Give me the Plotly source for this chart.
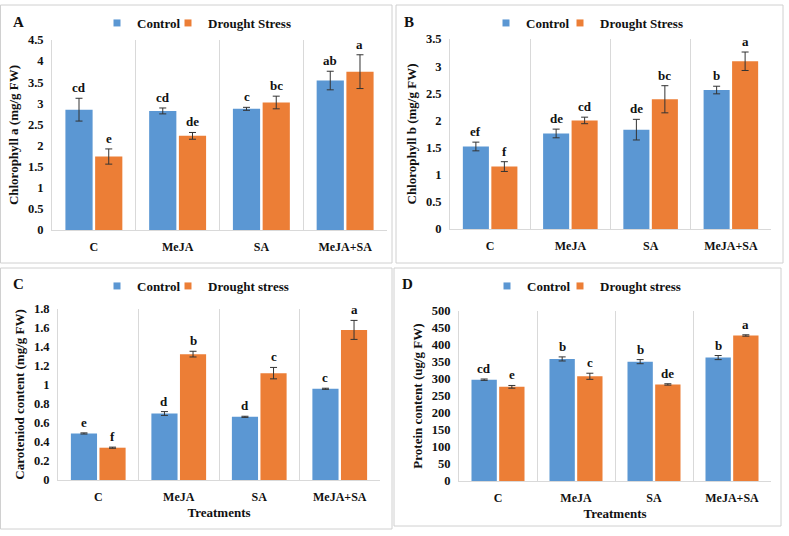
import plotly.graph_objects as go

W, H = 789, 536

categories = ["C", "MeJA", "SA", "MeJA+SA"]

# Panel A - Chlorophyll a
chla_control = [2.85, 2.82, 2.87, 3.54]
chla_control_err = [0.27, 0.07, 0.035, 0.22]
chla_drought = [1.74, 2.23, 3.02, 3.75]
chla_drought_err = [0.18, 0.08, 0.15, 0.40]
chla_control_letters = ["cd", "cd", "c", "ab"]
chla_drought_letters = ["e", "de", "bc", "a"]

# Panel B - Chlorophyll b
chlb_control = [1.52, 1.76, 1.83, 2.56]
chlb_control_err = [0.08, 0.08, 0.19, 0.07]
chlb_drought = [1.15, 2.00, 2.39, 3.09]
chlb_drought_err = [0.09, 0.06, 0.25, 0.17]
chlb_control_letters = ["ef", "de", "de", "b"]
chlb_drought_letters = ["f", "cd", "bc", "a"]

# Panel C - Carotenoid
car_control = [0.49, 0.70, 0.665, 0.96]
car_control_err = [0.006, 0.02, 0.006, 0.006]
car_drought = [0.34, 1.325, 1.125, 1.58]
car_drought_err = [0.006, 0.03, 0.06, 0.10]
car_control_letters = ["e", "d", "d", "c"]
car_drought_letters = ["f", "b", "c", "a"]

# Panel D - Protein
prot_control = [298, 359, 351, 363]
prot_control_err = [2, 6, 6, 6]
prot_drought = [277, 308, 284, 428]
prot_drought_err = [4, 9, 2, 2]
prot_control_letters = ["cd", "b", "b", "b"]
prot_drought_letters = ["e", "c", "de", "a"]

BLUE = "#5B97D3"
ORANGE = "#EC7E36"
FONT = "Liberation Serif"
GRID = "#D9D9D9"

panels = [
    dict(letter="A", ctrl=chla_control, ctrl_err=chla_control_err, dr=chla_drought, dr_err=chla_drought_err,
         cl=chla_control_letters, dl=chla_drought_letters, ymax=4.5, dtick=0.5,
         ytitle="Chlorophyll a (mg/g FW)", drname="Drought Stress", xtitle=None,
         px=(52, 387), py=(40, 230), box=(0.5, 5, 392, 263), lx=(97, 168), ly=23, letpos=(18, 22)),
    dict(letter="B", ctrl=chlb_control, ctrl_err=chlb_control_err, dr=chlb_drought, dr_err=chlb_drought_err,
         cl=chlb_control_letters, dl=chlb_drought_letters, ymax=3.5, dtick=0.5,
         ytitle="Chlorophyll b (mg/g FW)", drname="Drought Stress", xtitle=None,
         px=(450, 771), py=(39, 229), box=(396, 5, 783, 263), lx=(486, 560), ly=23, letpos=(409, 22)),
    dict(letter="C", ctrl=car_control, ctrl_err=car_control_err, dr=car_drought, dr_err=car_drought_err,
         cl=car_control_letters, dl=car_drought_letters, ymax=1.8, dtick=0.2,
         ytitle="Caroteniod content (mg/g FW)", drname="Drought stress", xtitle="Treatments",
         px=(58, 380), py=(309, 480), box=(0.5, 268, 392, 529), lx=(97, 168), ly=286, letpos=(18, 284)),
    dict(letter="D", ctrl=prot_control, ctrl_err=prot_control_err, dr=prot_drought, dr_err=prot_drought_err,
         cl=prot_control_letters, dl=prot_drought_letters, ymax=500, dtick=50,
         ytitle="Protein content (ug/g FW)", drname="Drought stress", xtitle="Treatments",
         px=(459, 771), py=(311, 481), box=(394, 268, 781, 526), lx=(487, 560), ly=286, letpos=(407, 284)),
]

BARGAP = 0.29
GROUPGAP = 0.085


def fx(p):
    return p / W


def fy(p):
    return 1 - p / H


fig = go.Figure()
layout = dict(
    width=W, height=H, margin=dict(l=0, r=0, t=0, b=0),
    paper_bgcolor="white", plot_bgcolor="white",
    font=dict(family=FONT, size=12, color="#111111", weight="bold"),
    barmode="group", bargap=BARGAP, bargroupgap=GROUPGAP,
    shapes=[], annotations=[],
)

legend_count = 0
for i, p in enumerate(panels):
    n = i + 1
    xa = "x" if n == 1 else f"x{n}"
    ya = "y" if n == 1 else f"y{n}"

    series_defs = [("Control", p["ctrl"], p["ctrl_err"], BLUE, p["lx"][0]),
                   (p["drname"], p["dr"], p["dr_err"], ORANGE, p["lx"][1])]
    for name, vals, errs, color, lxp in series_defs:
        legend_count += 1
        lg = "legend" if legend_count == 1 else f"legend{legend_count}"
        fig.add_trace(go.Bar(
            x=categories, y=vals, name=name, marker=dict(color=color, line=dict(width=0)),
            error_y=dict(type="data", array=errs, visible=True, color="#333333", thickness=1, width=3.5),
            xaxis=xa, yaxis=ya, showlegend=False,
        ))
        fig.add_trace(go.Scatter(
            x=[None], y=[None], mode="markers", name=name,
            marker=dict(symbol="square", size=7, color=color),
            xaxis=xa, yaxis=ya, legend=lg, showlegend=True,
        ))
        layout[lg] = dict(
            x=fx(lxp), y=fy(p["ly"]), xanchor="left", yanchor="middle",
            orientation="h", bgcolor="rgba(0,0,0,0)", font=dict(size=13),
            itemwidth=30, tracegroupgap=0,
        )

    layout[f"xaxis{'' if n == 1 else n}"] = dict(
        domain=[fx(p["px"][0]), fx(p["px"][1])], anchor=ya, type="category",
        categoryorder="array", categoryarray=categories,
        tickson="boundaries", showgrid=True, gridcolor=GRID, gridwidth=1,
        showline=True, linecolor=GRID, linewidth=1, ticks="", ticklabelstandoff=6,
        tickfont=dict(size=12), automargin=False, fixedrange=True,
        title=dict(text=p["xtitle"], font=dict(size=13), standoff=4) if p["xtitle"] else None,
    )
    layout[f"yaxis{'' if n == 1 else n}"] = dict(
        domain=[fy(p["py"][1]), fy(p["py"][0])], anchor=xa,
        range=[0, p["ymax"]], dtick=p["dtick"], showgrid=False, zeroline=False,
        showline=True, linecolor=GRID, linewidth=1, ticks="", ticklabelstandoff=5,
        tickfont=dict(size=12.5), automargin=False, fixedrange=True,
        title=dict(text=p["ytitle"], font=dict(size=13), standoff=6),
    )
    b = p["box"]
    layout["shapes"].append(dict(type="rect", xref="paper", yref="paper",
                                 x0=fx(b[0]), x1=fx(b[2]), y0=fy(b[3]), y1=fy(b[1]),
                                 line=dict(color="#D0D0D0", width=1), fillcolor="rgba(0,0,0,0)"))
    layout["annotations"].append(dict(text=p["letter"], xref="paper", yref="paper",
                                      x=fx(p["letpos"][0]), y=fy(p["letpos"][1]),
                                      xanchor="center", yanchor="middle", showarrow=False,
                                      font=dict(size=15)))
    # significance letters above error bars
    catw = (p["px"][1] - p["px"][0]) / len(categories)
    slot = catw * (1 - BARGAP) / 2
    for series, vals, errs, sign in [(p["cl"], p["ctrl"], p["ctrl_err"], -1),
                                     (p["dl"], p["dr"], p["dr_err"], 1)]:
        for c, lab, v, e in zip(categories, series, vals, errs):
            layout["annotations"].append(dict(
                text=lab, x=c, y=v + e, xref=xa, yref=ya, xanchor="center", yanchor="bottom",
                xshift=sign * slot / 2, yshift=1, showarrow=False, font=dict(size=13)))

fig.update_layout(**layout)
fig.write_html("out.html", config={"displayModeBar": False},
               post_script="document.body.style.margin='0';")
